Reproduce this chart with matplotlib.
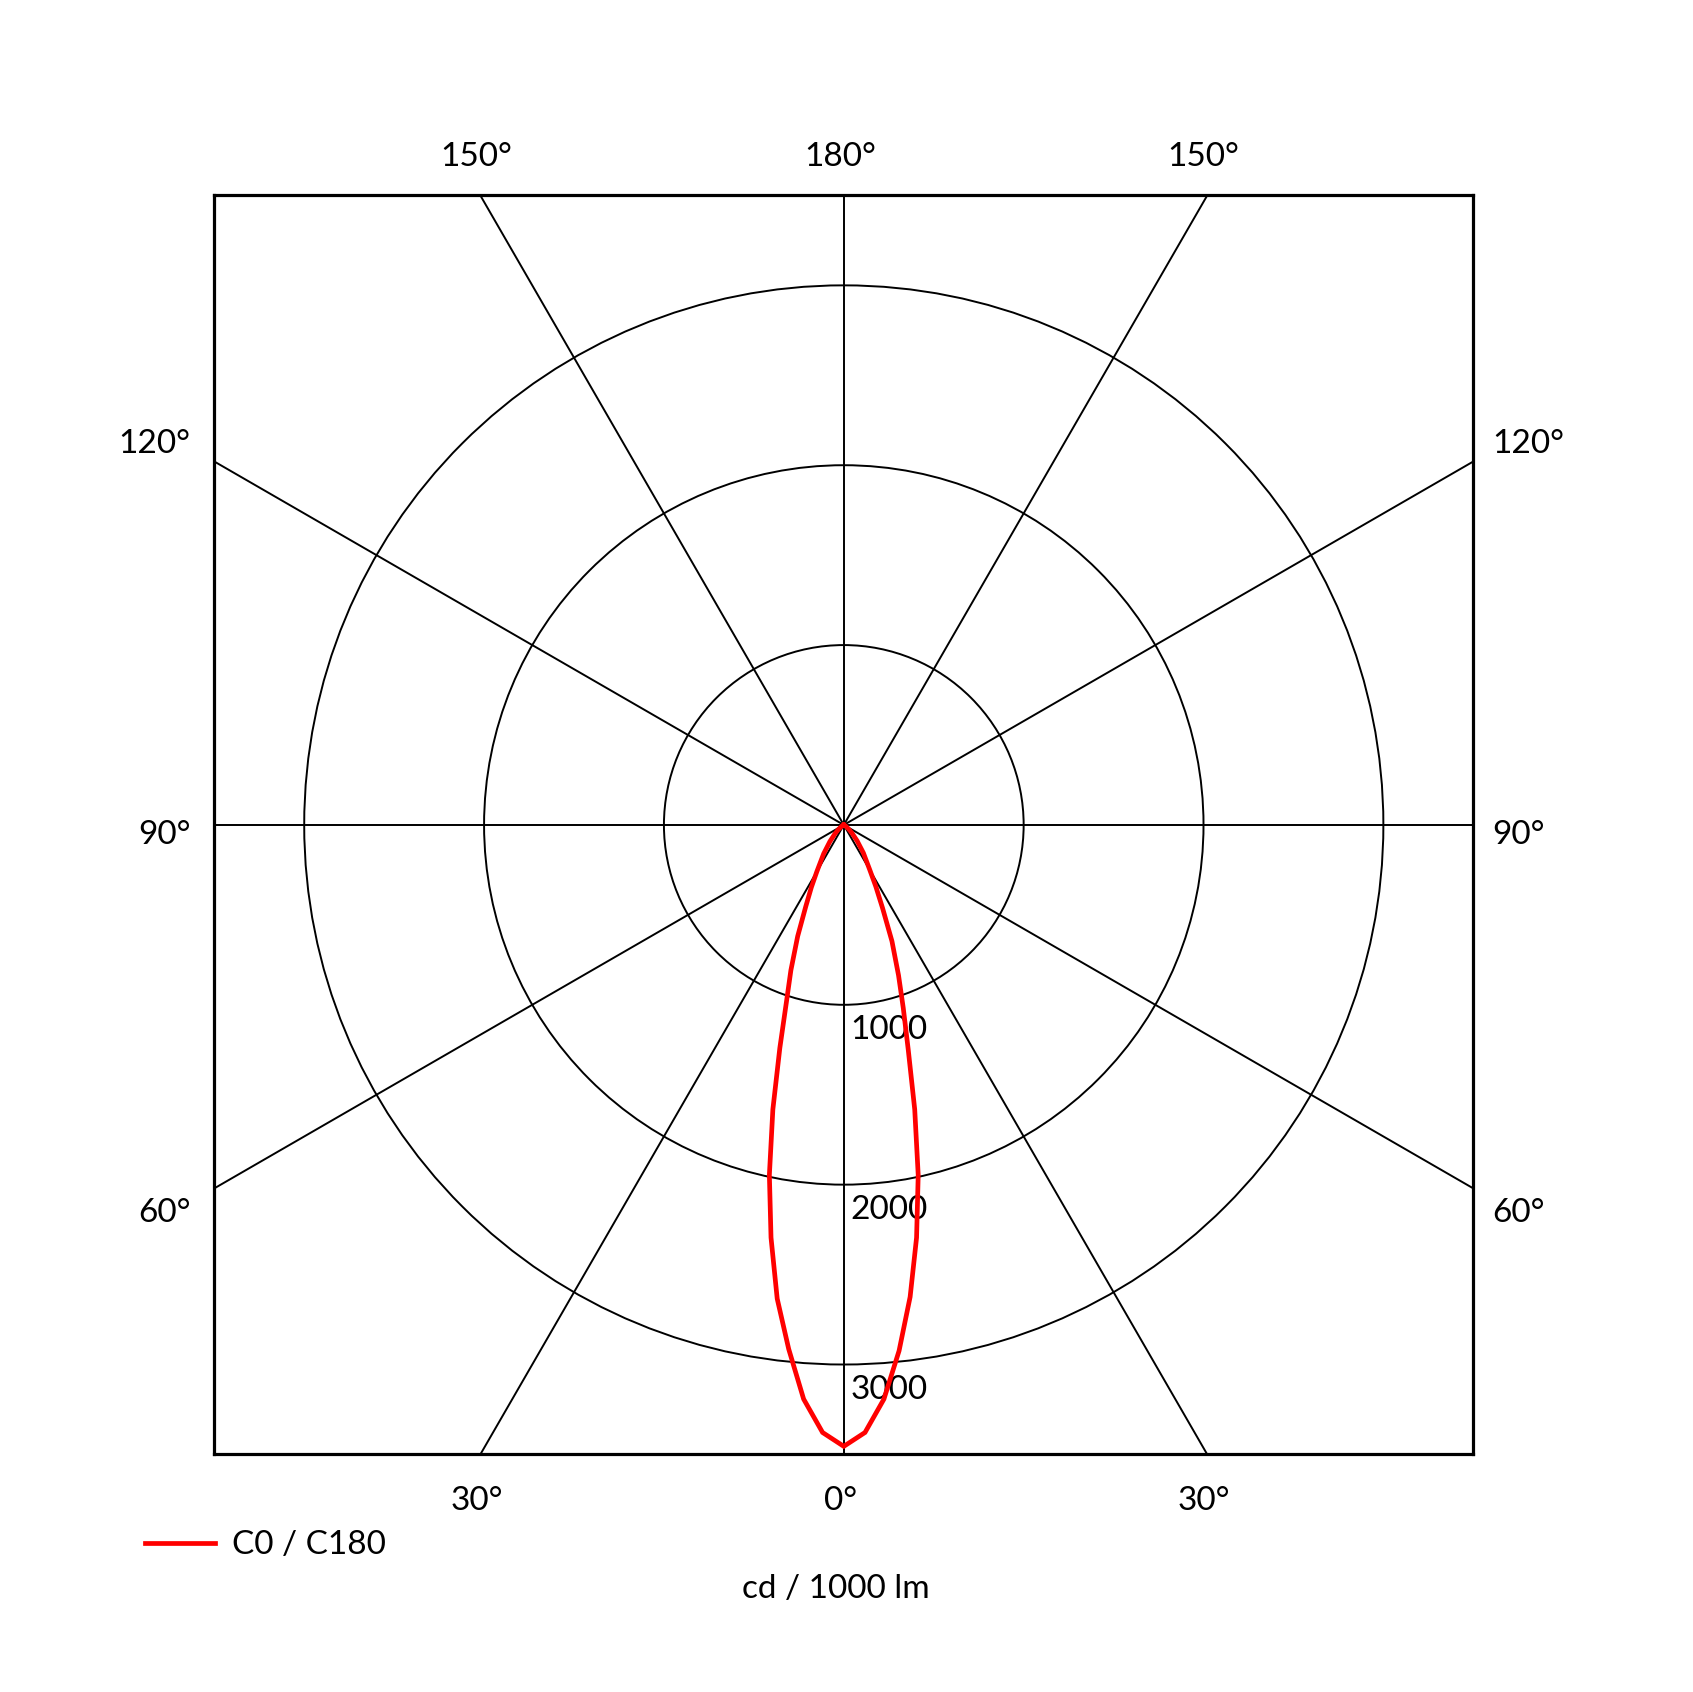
import numpy as np
import matplotlib
matplotlib.use("Agg")
import matplotlib.pyplot as plt
from matplotlib.patches import Circle

plt.rcParams["font.family"] = ["Lato", "DejaVu Sans"]

# Luminous intensity distribution, cd / 1000 lm
gamma_deg = [0, 2, 4, 6, 8, 10, 12, 14, 16, 18, 20, 22.5, 25, 27.5, 30,
             35, 40, 45, 50, 60, 70, 80, 90]
c0_cd = [3455, 3380, 3200, 2940, 2650, 2330, 1990, 1630, 1300, 1070, 890,
         700, 510, 385, 290, 190, 115, 65, 35, 10, 3, 0, 0]
c180_cd = [3455, 3380, 3200, 2930, 2660, 2330, 1990, 1630, 1290, 1030, 860,
           670, 500, 390, 300, 195, 120, 70, 40, 12, 4, 0, 0]

ring_values = [1000, 2000, 3000]
ring_labels = ["1000", "2000", "3000"]
spoke_angles = [0, 30, 60, 90, 120, 150]
r_max = 3500

top_labels = ["150°", "180°", "150°"]
side_labels = ["120°", "90°", "60°"]
bottom_labels = ["30°", "0°", "30°"]

FS = 24
GRID_LW = 1.4
DY = -18  # small vertical nudge for text

fig = plt.figure(figsize=(16.93, 16.92), dpi=100)
ax = fig.add_axes([0.1263, 0.1404, 0.7442, 0.7441])
ax.set_xlim(-r_max, r_max)
ax.set_ylim(-r_max, r_max)
ax.set_aspect("equal")
ax.set_xticks([])
ax.set_yticks([])
for sp in ax.spines.values():
    sp.set_linewidth(2.3)

# rings
for r in ring_values:
    ax.add_patch(Circle((0, 0), r, fill=False, edgecolor="black", lw=GRID_LW))

# spokes (0° points down)
for a in spoke_angles:
    t = np.radians(a)
    L = 2 * r_max
    ax.plot([-L * np.sin(t), L * np.sin(t)], [L * np.cos(t), -L * np.cos(t)],
            color="black", lw=GRID_LW)

# curve: C0 on the right, C180 on the left
g = np.radians(np.array(gamma_deg))
c0 = np.array(c0_cd)
c180 = np.array(c180_cd)
x = np.concatenate([-(c180 * np.sin(g))[::-1], c0 * np.sin(g)])
y = np.concatenate([-(c180 * np.cos(g))[::-1], -c0 * np.cos(g)])
ax.plot(x, y, color="#ff0000", lw=3.4, solid_joinstyle="miter",
        label="C0 / C180", zorder=5)

# ring value labels
for r, lab in zip(ring_values, ring_labels):
    ax.text(36, -r - 40 + DY, lab, fontsize=FS, ha="left", va="top")

# angle labels around the box
off = r_max * np.tan(np.radians(30))
for xx, lab in zip([-off, 0, off], top_labels):
    ax.text(xx - 20, r_max + 234 + DY, lab, fontsize=FS, ha="center",
            va="center", clip_on=False)
for xx, lab in zip([-off, 0, off], bottom_labels):
    ax.text(xx - 20, -r_max - 240 + DY, lab, fontsize=FS, ha="center",
            va="center", clip_on=False)
for yy, lab in zip([off + 114, -36, -off - 120], side_labels):
    ax.text(-r_max - 132, yy + DY, lab, fontsize=FS, ha="right", va="center",
            clip_on=False)
    ax.text(r_max + 108, yy + DY, lab, fontsize=FS, ha="left", va="center",
            clip_on=False)

ax.legend(loc="center left", bbox_to_anchor=(-0.0548, -0.0721), frameon=False,
          fontsize=FS, handlelength=2.1, handletextpad=0.5, borderpad=0,
          borderaxespad=0)

ax.text(-42, -4230 + DY, "cd / 1000 lm", fontsize=FS, ha="center",
        va="center", clip_on=False)

fig.savefig("out.png", dpi=100)
